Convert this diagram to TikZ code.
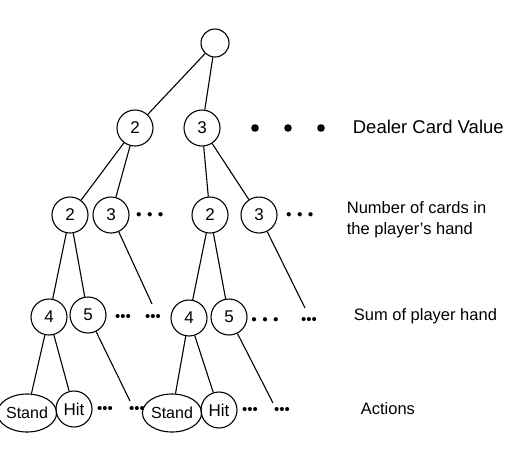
\documentclass[tikz,border=0pt]{standalone}
\usepackage{fontspec}
\setmainfont{Liberation Sans}
\usetikzlibrary{shapes.geometric, positioning}

\begin{document}
\begin{tikzpicture}[x=1pt, y=-1pt, line width=1.1pt,
    choice/.style={circle, draw, minimum size=36pt, inner sep=0pt, font=\fontsize{17}{20}\selectfont},
    action/.style={ellipse, draw, minimum width=50pt, minimum height=38pt, inner sep=0pt, font=\fontsize{16}{19}\selectfont},
    more/.style={inner sep=0pt, font=\fontsize{15}{18}\selectfont},
    levellabel/.style={anchor=west, align=left, font=\fontsize{16.5}{21}\selectfont}]
    \useasboundingbox (0,0) rectangle (529,448);

    % root and dealer card
    \node[circle, draw, minimum size=28pt] (root) at (215,43) {};
    \node[choice] (d2) at (135,128) {2};
    \node[choice] (d3) at (202,128) {3};
    \foreach \x in {255,288,321}
        \fill (\x,128) circle (3.8pt);

    % number of cards
    \node[choice] (n2a) at (70,215) {2};
    \node[choice] (n3a) at (111,215) {3};
    \node[more, font=\fontsize{11}{14}\selectfont] (dotsa) [right=6pt of n3a] {$\bullet\;\bullet\;\bullet$};
    \node[choice] (n2b) at (210,215) {2};
    \node[choice] (n3b) at (259,215) {3};
    \node[more, font=\fontsize{11}{14}\selectfont] (dotsb) [right=8pt of n3b] {$\bullet\;\bullet\;\bullet$};

    % sum of player hand
    \node[choice] (s4a) at (49,317) {4};
    \node[choice] (s5a) at (88,315) {5};
    \node[more] (sdotsa) at (123,318) {\textbullet\textbullet\textbullet};
    \node[more] (sdotsb) at (153,318) {\textbullet\textbullet\textbullet};
    \node[choice] (s4b) at (189,318) {4};
    \node[choice] (s5b) at (229,317) {5};
    \node[more, font=\fontsize{11}{14}\selectfont] (sdotsc) at (265,320) {$\bullet\;\bullet\;\bullet$};
    \node[more] (sdotsd) at (309,321) {\textbullet\textbullet\textbullet};

    % actions
    \node[action] (standa) at (27,413) {Stand};
    \node[choice] (hita) at (74,409) {Hit};
    \node[more] (adotsa) at (105,410) {\textbullet\textbullet\textbullet};
    \node[more] (adotsb) at (137,410) {\textbullet\textbullet\textbullet};
    \node[action] (standb) at (172,413) {Stand};
    \node[choice] (hitb) at (219,410) {Hit};
    \node[more] (adotsc) at (250,411) {\textbullet\textbullet\textbullet};
    \node[more] (adotsd) at (282,411) {\textbullet\textbullet\textbullet};

    % loose ends
    \coordinate (enda) at (152,304);
    \coordinate (endb) at (305,308);
    \coordinate (endc) at (130,401);
    \coordinate (endd) at (273,403);

    \draw (root) -- (d2);
    \draw (root) -- (d3);
    \draw (d2) -- (n2a);
    \draw (d2) -- (n3a);
    \draw (d3) -- (n2b);
    \draw (d3) -- (n3b);
    \draw (n2a) -- (s4a);
    \draw (n2a) -- (s5a);
    \draw (n3a) -- (enda);
    \draw (n2b) -- (s4b);
    \draw (n2b) -- (s5b);
    \draw (n3b) -- (endb);
    \draw (s4a) -- (standa);
    \draw (s4a) -- (hita);
    \draw (s5a) -- (endc);
    \draw (s4b) -- (standb);
    \draw (s4b) -- (hitb);
    \draw (s5b) -- (endd);

    % level labels
    \node[levellabel, font=\fontsize{18.5}{22}\selectfont] (lbldealer) at (349,127) {Dealer Card Value};
    \node[levellabel] (lblcards) at (343,220) {Number of cards in\\the player’s hand};
    \node[levellabel] (lblsum) at (350,316) {Sum of player hand};
    \node[levellabel] (lblact) at (357,409) {Actions};
\end{tikzpicture}
\end{document}
